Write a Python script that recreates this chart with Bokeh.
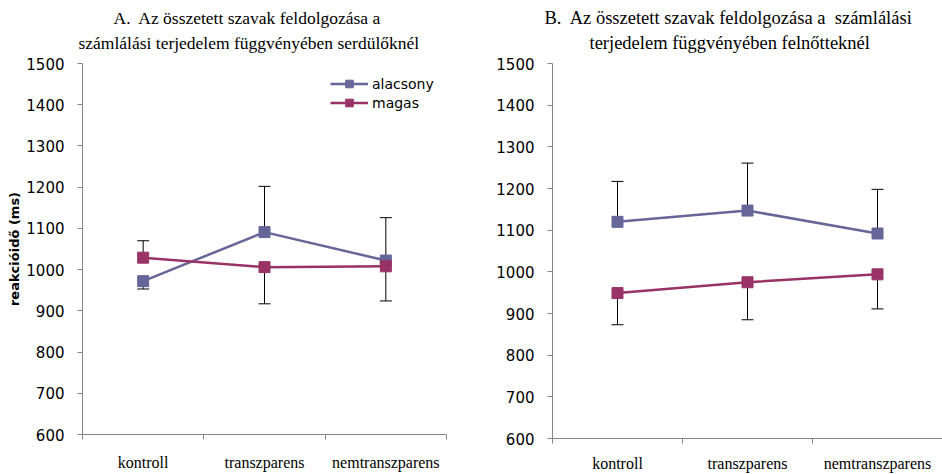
from bokeh.plotting import figure
from bokeh.layouts import row, column
from bokeh.models import (FixedTicker, Range1d, Title, Legend, LegendItem,
                          ColumnDataSource)
from bokeh.embed import file_html
from bokeh.resources import INLINE

# Conditions on the x axis
categories = ["kontroll", "transzparens", "nemtranszparens"]

# Panel A: adolescents (mean reaction time, ms)
a_alacsony = [972, 1091, 1022]
a_magas = [1029, 1006, 1008]
# one-sided error bars (signed: + drawn upward, - drawn downward)
a_alacsony_err = [-19, 111, 104]
a_magas_err = [41, -89, -84]

# Panel B: adults (mean reaction time, ms)
b_alacsony = [1120, 1147, 1092]
b_magas = [949, 975, 994]
b_alacsony_err = [97, 114, 106]
b_magas_err = [-76, -90, -83]

y_ticks = [600, 700, 800, 900, 1000, 1100, 1200, 1300, 1400, 1500]
series_names = ["alacsony", "magas"]
series_colors = ["#666699", "#993366"]

NBSP = "\u00a0"
AXIS_GREY = "#868686"
SERIF = "Liberation Serif"
SANS = "DejaVu Sans"


def make_panel(title_lines, title_offsets, title_size, alacsony, magas,
               err_a, err_m, width, border_right, border_bottom, x_standoff,
               show_ylabel, show_legend):
    p = figure(width=width, height=474, output_backend="svg",
               toolbar_location=None,
               x_range=Range1d(0, len(categories)),
               y_range=Range1d(600, 1500),
               min_border_left=82, min_border_right=border_right,
               min_border_top=63, min_border_bottom=border_bottom)
    p.outline_line_color = None
    p.xgrid.visible = False
    p.ygrid.visible = False
    p.background_fill_color = "white"
    p.border_fill_color = "white"

    # two-line title; the first one added sits closest to the plot area
    lines = list(zip(title_lines, title_offsets))
    for i, (line, off) in enumerate(reversed(lines)):
        p.add_layout(Title(text=line, align="left", offset=off,
                           text_font=SERIF, text_font_size=title_size,
                           text_font_style="normal", text_color="black",
                           standoff=(22 if i == 0 else -16)), "above")

    # y axis
    ya = p.yaxis[0]
    ya.ticker = FixedTicker(ticks=y_ticks, minor_ticks=[])
    ya.axis_line_color = AXIS_GREY
    ya.major_tick_line_color = AXIS_GREY
    ya.major_tick_out = 5
    ya.major_tick_in = 0
    ya.minor_tick_line_color = None
    ya.major_label_text_font = SANS
    ya.major_label_text_font_size = "15px"
    ya.major_label_text_color = "black"
    ya.major_label_standoff = 13
    if show_ylabel:
        ya.axis_label = "reakcióidő (ms)"
        ya.axis_label_text_font = SANS
        ya.axis_label_text_font_size = "13px"
        ya.axis_label_text_font_style = "bold"
        ya.axis_label_text_color = "black"
        ya.axis_label_standoff = 1

    # x axis: labels at category centres, ticks at category boundaries
    centers = [i + 0.5 for i in range(len(categories))]
    xa = p.xaxis[0]
    xa.ticker = FixedTicker(ticks=centers,
                            minor_ticks=list(range(len(categories) + 1)))
    xa.major_label_overrides = {c: name for c, name in zip(centers, categories)}
    xa.axis_line_color = AXIS_GREY
    xa.major_tick_line_color = None
    xa.major_tick_out = 0
    xa.major_tick_in = 0
    xa.minor_tick_line_color = AXIS_GREY
    xa.minor_tick_out = 5
    xa.minor_tick_in = 0
    xa.major_label_text_font = SERIF
    xa.major_label_text_font_size = "16px"
    xa.major_label_text_color = "black"
    xa.major_label_standoff = x_standoff

    items = []
    for name, color, vals, errs in zip(series_names, series_colors,
                                       [alacsony, magas], [err_a, err_m]):
        ends = [v + e for v, e in zip(vals, errs)]
        src = ColumnDataSource(dict(x=centers, y=vals, end=ends))
        # error bars behind the lines and markers
        p.segment(x0="x", y0="y", x1="x", y1="end", source=src,
                  line_color="black", line_width=1)
        p.scatter(x="x", y="end", source=src, marker="dash", size=12,
                  line_color="black", line_width=1)
        ln = p.line(x="x", y="y", source=src, line_color=color, line_width=2.5)
        mk = p.scatter(x="x", y="y", source=src, marker="square", size=11,
                       fill_color=color, line_color=color)
        items.append(LegendItem(label=name, renderers=[ln, mk]))

    if show_legend:
        legend = Legend(items=items, location=(248, 322),
                        orientation="vertical",
                        background_fill_alpha=0, border_line_alpha=0,
                        padding=0, margin=0, spacing=0,
                        glyph_width=38, glyph_height=19, label_height=19,
                        label_standoff=4,
                        label_text_font=SANS, label_text_font_size="14px",
                        label_text_color="black")
        p.add_layout(legend)
    return p


panel_a = make_panel(
    ["A." + NBSP + " Az összetett szavak feldolgozása a",
     "számlálási terjedelem függvényében serdülőknél"],
    [31, -4], "17.5px", a_alacsony, a_magas, a_alacsony_err, a_magas_err,
    width=470, border_right=24, border_bottom=40, x_standoff=14,
    show_ylabel=True, show_legend=True)

panel_b = make_panel(
    ["B." + NBSP + " Az összetett szavak feldolgozása a" + NBSP + " számlálási",
     "terjedelem függvényében felnőtteknél"],
    [-8, 37], "18.5px", b_alacsony, b_magas, b_alacsony_err, b_magas_err,
    width=472, border_right=0, border_bottom=34, x_standoff=11,
    show_ylabel=False, show_legend=False)

# each panel in its own column so the two plot frames are laid out independently
layout = row(column(panel_a), column(panel_b))

with open("out.html", "w") as f:
    f.write(file_html(layout, INLINE))
